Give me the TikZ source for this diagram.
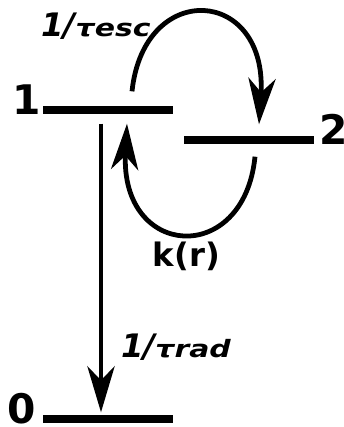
\documentclass[tikz,border=0pt]{standalone}
\usepackage{fontspec}
\setmainfont{DejaVu Sans}
\usepackage{graphicx}
\usepackage{tikz}
\usetikzlibrary{positioning, arrows.meta, calc}

\tikzset{
  lvl/.style={fill=black, inner sep=0pt, minimum width=3.25cm, minimum height=0.22cm},
  lvlnum/.style={font=\bfseries\fontsize{29}{29}\selectfont, inner sep=0pt},
  rate/.style={font=\bfseries\itshape\fontsize{23}{23}\selectfont, inner sep=0pt, anchor=base},
  arr/.style={-{Stealth[length=1.15cm, width=0.68cm, inset=0.35cm]}, line width=3.4pt},
}
\newcommand{\ratesub}[1]{\scalebox{1.25}[1]{\fontsize{17}{17}\selectfont #1}}

\begin{document}
\begin{tikzpicture}
\useasboundingbox (0,0) rectangle (8.6,10.675);

% energy levels
\node[lvl] (lev1) at (2.7,7.925) {};
\node[lvl] (lev2) at (6.225,7.175) {};
\node[lvl] (lev0) at (2.7,0.2) {};

% level numbers
\node[lvlnum, anchor=base east] (num1) at ($(lev1.south west)+(-0.05,0)$) {1};
\node[lvlnum, anchor=base west] (num2) at ($(lev2.south east)+(0.12,0)$) {2};
\node[lvlnum, anchor=base east] (num0) at ($(lev0.south west)+(-0.17,0)$) {0};

% rates
\node[rate] (resc) at (2.4,9.75) {1/\ratesub{τesc}};
\node[rate] (rrad) at (4.4,1.725) {1/\ratesub{τrad}};
\node[rate, font=\bfseries\fontsize{23}{23}\selectfont] (kr) at (4.66,4.0) {k(r)};

% transitions
\draw[arr] ($(lev1.south)+(-0.175,-0.225)$) -- ($(lev0.north)+(-0.175,0.05)$);
\draw[arr] ($(lev1.north)+(0.6,0.35)$)
  .. controls (3.6,11.2) and (6.7,11.0) .. ($(lev2.north)+(0.25,0.275)$);
\draw[arr] ($(lev2.south)+(0.15,-0.3)$)
  .. controls (6.1,4.0) and (3.0,4.2) .. ($(lev1.south)+(0.475,-0.225)$);

\end{tikzpicture}
\end{document}
